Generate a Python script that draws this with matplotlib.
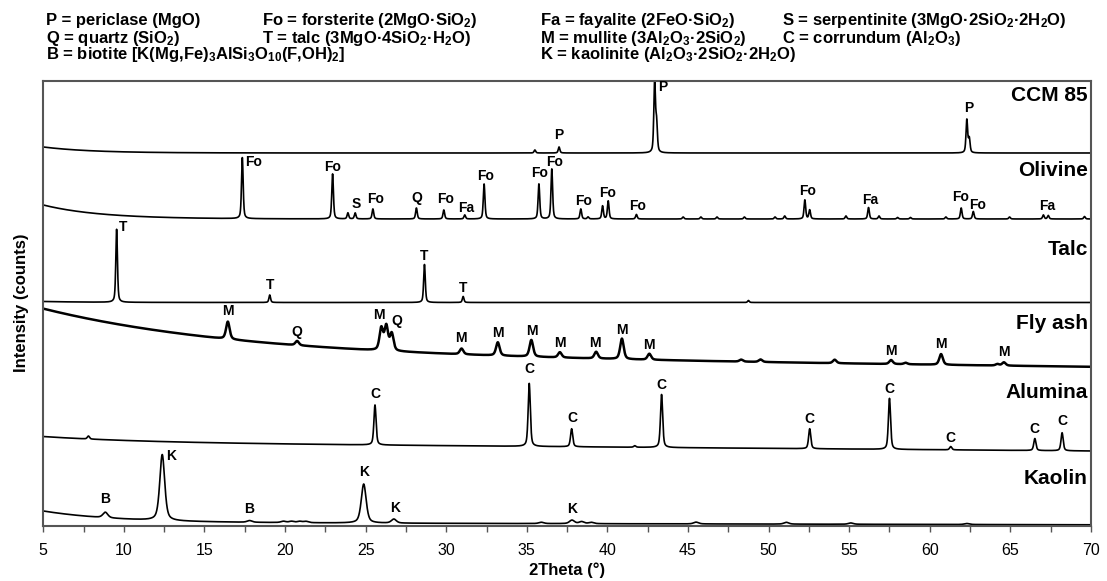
import numpy as np
import matplotlib
matplotlib.use('Agg')
import matplotlib.pyplot as plt
from matplotlib.ticker import MultipleLocator

plt.rcParams['font.family'] = ['Liberation Sans', 'DejaVu Sans']
plt.rcParams['mathtext.fontset'] = 'custom'
plt.rcParams['mathtext.rm'] = 'Liberation Sans:bold'
plt.rcParams['mathtext.it'] = 'Liberation Sans:bold'
plt.rcParams['mathtext.bf'] = 'Liberation Sans:bold'

# background of each pattern: level at 70 deg, slope toward low angle,
# extra rise at 5 deg, decay length of that rise (deg)
ccm_bg = [373, 0.0, 6, 3]
oli_bg = [307, 0.0, 14, 3.5]
talc_bg = [223.5, 0.0, 1, 3]
fly_bg = [159, 0.19, 46, 12]
alu_bg = [75, 0.13, 6, 6.5]
kao_bg = [1.2, 0.035, 11.5, 4.5]

# peaks: 2theta position, height above background, half width
ccm_pos = [35.5, 37.0, 42.93, 43.05, 62.3, 62.45]
ccm_int = [3, 6, 70, 28, 33, 14]
ccm_hw = 0.06

oli_pos = [17.35, 22.95, 23.9, 24.35, 25.45, 28.15, 29.85, 31.15, 32.35, 35.75,
           36.55, 38.35, 38.8, 39.7, 40.05, 41.8, 44.7, 45.8, 46.8, 48.5, 50.4,
           51.0, 52.25, 52.55, 54.8, 56.2, 56.85, 58.0, 58.8, 61.0, 61.95, 62.7,
           64.95, 67.05, 67.35, 69.6]
oli_int = [61, 45, 6, 6, 10, 11, 9, 4, 35, 35,
           50, 10, 2, 13, 18, 4.5, 2, 2, 2, 2, 2,
           3, 19, 9, 3, 11.5, 3, 1.5, 1.5, 2, 11, 7.5,
           2, 4, 3.5, 2.5]
oli_hw = 0.06

talc_pos = [9.55, 19.05, 28.65, 31.05, 48.75]
talc_int = [73, 7.5, 38, 6, 2]
talc_hw = 0.06

fly_pos = [16.45, 20.75, 25.97, 26.28, 26.62, 30.95, 33.2, 35.28, 37.05, 39.3,
           40.9, 42.6, 48.3, 49.5, 54.1, 57.6, 58.5, 60.7, 64.2, 64.6]
fly_int = [17.5, 4.3, 22, 24, 17, 5.7, 13.3, 16.7, 5.3, 6.7,
           20.5, 6, 2, 2.5, 3.5, 4, 1.5, 10.7, 1.5, 3.3]
fly_hw = 0.13

alu_pos = [7.8, 25.58, 35.15, 37.78, 41.7, 43.36, 52.55, 57.5, 61.3, 66.52, 68.21]
alu_int = [3, 40, 63, 18, 1.5, 53, 20, 51, 3.3, 12, 18]
alu_hw = 0.08

kao_pos = [8.85, 12.38, 17.8, 19.9, 20.4, 20.9, 21.3, 24.88, 26.75, 35.9,
           37.8, 38.4, 39.0, 45.5, 51.1, 55.1, 62.3]
kao_int = [5.5, 66, 1.7, 1.3, 1.3, 1.3, 1.3, 39, 4, 1.3,
           3.5, 2, 1.3, 1.8, 1.8, 1.3, 1]
kao_hw = 0.18

# phase labels: text, 2theta, height above background
ccm_lab = ['P', 'P', 'P']
ccm_lab_x = [37.0, 43.45, 62.4]
ccm_lab_off = [18, 66, 45]

oli_lab = ['Fo', 'Fo', 'S', 'Fo', 'Q', 'Fo', 'Fa', 'Fo', 'Fo', 'Fo', 'Fo', 'Fo',
           'Fo', 'Fo', 'Fa', 'Fo', 'Fo', 'Fa']
oli_lab_x = [18.05, 22.95, 24.4, 25.6, 28.2, 29.95, 31.25, 32.45, 35.8, 36.75,
             38.5, 40.0, 41.9, 52.4, 56.3, 61.9, 62.95, 67.3]
oli_lab_off = [57, 52, 15, 20, 21, 20, 11, 43, 46, 57, 18, 26, 13, 28, 19, 22, 14, 13]

talc_lab = ['T', 'T', 'T', 'T']
talc_lab_x = [9.95, 19.05, 28.65, 31.05]
talc_lab_off = [75, 17, 46, 14]

fly_lab = ['M', 'Q', 'M', 'Q', 'M', 'M', 'M', 'M', 'M', 'M', 'M', 'M', 'M', 'M']
fly_lab_x = [16.45, 20.7, 25.8, 26.95, 30.9, 33.2, 35.3, 37.05, 39.25, 40.9,
             42.6, 57.6, 60.7, 64.6]
fly_lab_off = [28, 13.5, 35, 30, 16.5, 22.5, 26, 14.5, 15, 29, 15, 13.5, 20.5, 14]

alu_lab = ['C'] * 9
alu_lab_x = [25.58, 35.15, 37.8, 43.36, 52.55, 57.5, 61.3, 66.52, 68.21]
alu_lab_off = [50.7, 77, 29, 62.5, 29.3, 60, 11.7, 21.7, 29.3]

kao_lab = ['B', 'K', 'B', 'K', 'K', 'K']
kao_lab_x = [8.85, 12.95, 17.8, 24.9, 26.8, 37.8]
kao_lab_off = [18.8, 65, 13, 51.4, 14.9, 14.4]

names = ['CCM 85', 'Olivine', 'Talc', 'Fly ash', 'Alumina', 'Kaolin']
name_off = [57.7, 48.3, 53.3, 43, 58.3, 46.5]

legend_rows = [
    ['P = periclase (MgO)', 'Fo = forsterite (2MgO·SiO$_2$)',
     'Fa = fayalite (2FeO·SiO$_2$)', 'S = serpentinite (3MgO·2SiO$_2$·2H$_2$O)'],
    ['Q = quartz (SiO$_2$)', 'T = talc (3MgO·4SiO$_2$·H$_2$O)',
     'M = mullite (3Al$_2$O$_3$·2SiO$_2$)', 'C = corrundum (Al$_2$O$_3$)'],
    ['B = biotite [K(Mg,Fe)$_3$AlSi$_3$O$_{10}$(F,OH)$_2$]', '',
     'K = kaolinite (Al$_2$O$_3$·2SiO$_2$·2H$_2$O)', ''],
]

theta = np.linspace(5, 70, 6501)


def background(bg, x):
    level, slope, rise, decay = bg
    return level + slope * (70 - x) + rise * np.exp(-(x - 5) / decay)


def pattern(bg, pos, inten, hw):
    y = background(bg, theta)
    for p, h in zip(pos, inten):
        d = (theta - p) / hw
        y = y + h * (0.5 / (1 + d ** 2) + 0.5 * np.exp(-np.log(2) * d ** 2))
    return y


traces = [
    (ccm_bg, ccm_pos, ccm_int, ccm_hw, ccm_lab, ccm_lab_x, ccm_lab_off, 1.2),
    (oli_bg, oli_pos, oli_int, oli_hw, oli_lab, oli_lab_x, oli_lab_off, 1.2),
    (talc_bg, talc_pos, talc_int, talc_hw, talc_lab, talc_lab_x, talc_lab_off, 1.2),
    (fly_bg, fly_pos, fly_int, fly_hw, fly_lab, fly_lab_x, fly_lab_off, 1.8),
    (alu_bg, alu_pos, alu_int, alu_hw, alu_lab, alu_lab_x, alu_lab_off, 1.2),
    (kao_bg, kao_pos, kao_int, kao_hw, kao_lab, kao_lab_x, kao_lab_off, 1.2),
]

fig = plt.figure(figsize=(11.07, 5.81), dpi=100)
ax = fig.add_axes([0.0391, 0.0947, 0.9464, 0.7659])

for (bg, pos, inten, hw, lab, lab_x, lab_off, lw), name, noff in zip(traces, names, name_off):
    ax.plot(theta, pattern(bg, pos, inten, hw), color='black', lw=lw)
    for t, x, off in zip(lab, lab_x, lab_off):
        ax.text(x, background(bg, x) + off, t, fontsize=10, fontweight='bold',
                ha='center', va='center')
    ax.text(69.8, background(bg, 70) + noff, name, fontsize=15, fontweight='bold',
            ha='right', va='center')

ax.set_xlim(5, 70)
ax.set_ylim(0, 445)
ax.xaxis.set_major_locator(MultipleLocator(5))
ax.xaxis.set_minor_locator(MultipleLocator(2.5))
ax.set_yticks([])
ax.tick_params(axis='x', which='both', direction='out', length=4, width=1,
               color='#555555', labelsize=11.5, pad=8)
for s in ax.spines.values():
    s.set_color('#555555')
    s.set_linewidth(1.5)

fig.text(567 / 1107, 1 - 570 / 581, '2Theta (°)', fontsize=12, fontweight='bold',
         ha='center', va='center')
fig.text(22 / 1107, 1 - 303 / 581, 'Intensity (counts)', fontsize=12,
         fontweight='bold', rotation=90, ha='center', va='center')

# legend block above the axes
col_x = [46, 262, 540, 782]
row_y = [25.5, 42.5, 59.5]
for row, yb in zip(legend_rows, row_y):
    for txt, xc in zip(row, col_x):
        if txt:
            fig.text(xc / 1107, 1 - yb / 581, txt, fontsize=12, fontweight='bold',
                     ha='left', va='baseline')

fig.savefig('out.png', dpi=100)
